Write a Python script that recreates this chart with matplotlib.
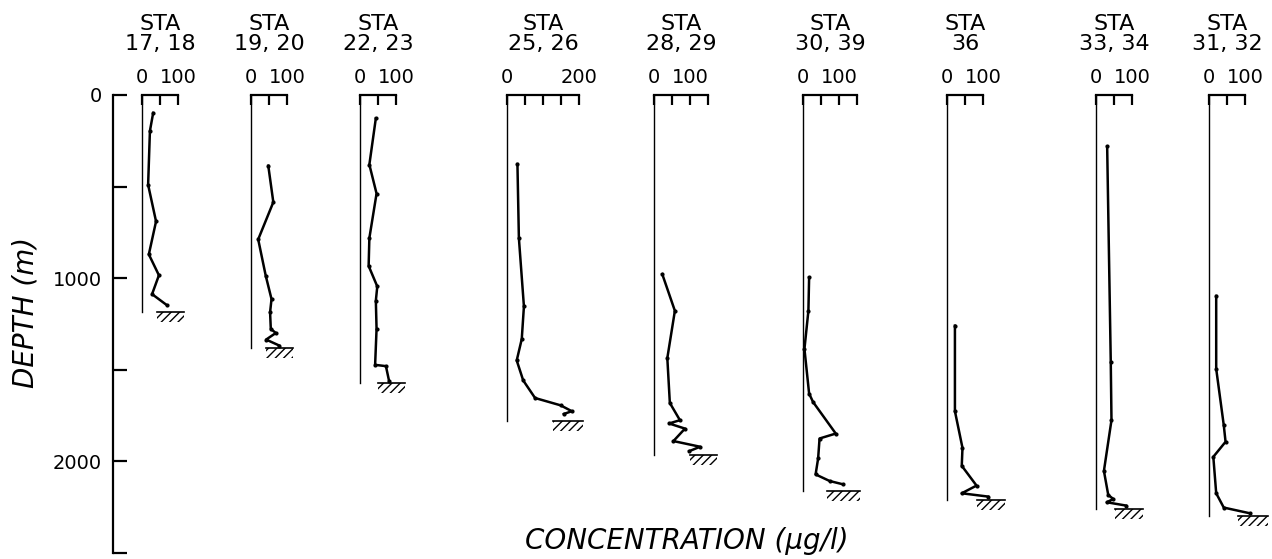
import numpy as np
import matplotlib
matplotlib.use("Agg")
import matplotlib.pyplot as plt
from matplotlib.transforms import blended_transform_factory

plt.rcParams['font.family'] = ['DejaVu Sans']
plt.rcParams['hatch.linewidth'] = 1.0

# estacoes (rotulo de cima)
stations = ['17, 18', '19, 20', '22, 23', '25, 26', '28, 29', '30, 39', '36', '33, 34', '31, 32']

# perfis: profundidade (m) e concentracao (ug/l)
depth = [
    [98, 196, 490, 690, 870, 984, 1087, 1147],
    [386, 585, 788, 987, 1114, 1186, 1277, 1299, 1335, 1368],
    [127, 380, 538, 781, 933, 1045, 1123, 1277, 1473, 1480, 1563],
    [377, 781, 1154, 1332, 1449, 1558, 1654, 1694, 1726, 1741],
    [978, 1178, 1436, 1681, 1775, 1793, 1821, 1889, 1920, 1944],
    [996, 1178, 1386, 1630, 1676, 1848, 1875, 1984, 2071, 2107, 2125],
    [1259, 1726, 1926, 2024, 2132, 2174, 2192],
    [281, 1458, 1775, 2052, 2183, 2205, 2223, 2241],
    [1097, 1495, 1802, 1893, 1975, 2174, 2252, 2283],
]
conc = [
    [31, 22, 17, 39, 19, 47, 28, 69],
    [48, 62, 20, 41, 57, 53, 55, 69, 42, 79],
    [44, 26, 46, 26, 24, 48, 44, 46, 42, 72, 81],
    [29, 33, 47, 41, 27, 45, 78, 149, 180, 158],
    [23, 58, 37, 44, 72, 42, 86, 54, 128, 98],
    [17, 15, 4, 17, 28, 91, 46, 42, 35, 74, 111],
    [22, 22, 43, 41, 82, 41, 114],
    [31, 41, 43, 22, 34, 48, 30, 83],
    [20, 20, 41, 46, 12, 20, 41, 113],
]

# fundo do mar (m) e extensao do hachurado (ug/l)
bottom = [1185, 1380, 1571, 1777, 1967, 2163, 2212, 2261, 2299]
hatch_x0 = [43, 42, 50, 128, 100, 67, 83, 53, 80]
hatch_x1 = [117, 117, 125, 211, 175, 158, 161, 131, 163]

# escala de concentracao de cada painel
scale_max = [100, 100, 100, 200, 150, 150, 100, 100, 100]
scale_lab = [100, 100, 100, 200, 100, 100, 100, 100, 100]

# layout (pixels da figura)
W, H = 1272, 559
zero_px = [142, 251, 360, 507, 654, 803, 947, 1096, 1209]
px_per_unit = 0.36
y_top, y_bot = 95, 553
xspan = 250
ax_b = 1 - y_bot / H
ax_h = (y_bot - y_top) / H

fig = plt.figure(figsize=(W / 100, H / 100), dpi=100)

# eixo de profundidade
axd = fig.add_axes([113 / W, ax_b, 30 / W, ax_h])
axd.set_ylim(2500, 0)
axd.set_xlim(0, 1)
for s in ['top', 'right', 'bottom']:
    axd.spines[s].set_visible(False)
axd.spines['left'].set_linewidth(1.6)
axd.set_yticks(np.arange(0, 2501, 500))
axd.set_yticklabels(['0', '', '1000', '', '2000', ''])
axd.tick_params(axis='y', direction='in', length=10, width=1.6, pad=8, labelsize=14)
axd.tick_params(axis='x', bottom=False, labelbottom=False)
axd.patch.set_alpha(0)

for i in range(len(stations)):
    ax = fig.add_axes([zero_px[i] / W, ax_b, xspan * px_per_unit / W, ax_h])
    ax.patch.set_alpha(0)
    ax.set_xlim(0, xspan)
    ax.set_ylim(2500, 0)
    ax.spines['right'].set_visible(False)
    ax.spines['bottom'].set_visible(False)
    ax.spines['left'].set_bounds(0, bottom[i])
    ax.spines['left'].set_linewidth(1.0)
    ax.spines['top'].set_bounds(0, scale_max[i])
    ax.spines['top'].set_linewidth(1.6)
    ticks = np.arange(0, scale_max[i] + 1, 50)
    ax.xaxis.set_ticks_position('top')
    ax.set_xticks(ticks)
    ax.set_xticklabels([str(t) if t in (0, scale_lab[i]) else '' for t in ticks])
    ax.tick_params(axis='x', direction='in', length=7, width=1.6, pad=6, labelsize=14)
    ax.tick_params(axis='y', left=False, labelleft=False)

    # perfil
    ax.plot(conc[i], depth[i], '-', color='black', lw=1.8, marker='o', ms=2, clip_on=False)
    # fundo
    ax.fill_between([hatch_x0[i], hatch_x1[i]], bottom[i], bottom[i] + 55,
                    hatch='////', facecolor='none', edgecolor='black', linewidth=0, clip_on=False)
    ax.plot([hatch_x0[i], hatch_x1[i]], [bottom[i], bottom[i]], color='black', lw=1.2, clip_on=False)

    # titulo da estacao
    tr = blended_transform_factory(ax.transData, fig.transFigure)
    ax.text(scale_max[i] / 2, 1 - 54 / H, 'STA\n' + stations[i], transform=tr,
            ha='center', va='bottom', fontsize=16, linespacing=1.0)

fig.text(26 / W, 1 - 312 / H, 'DEPTH (m)', rotation=90, ha='center', va='center',
         fontsize=20, style='italic')
fig.text(687 / W, 1 - 541 / H, 'CONCENTRATION (μg/l)', ha='center', va='center',
         fontsize=20, style='italic')

fig.savefig('out.png', dpi=100)
